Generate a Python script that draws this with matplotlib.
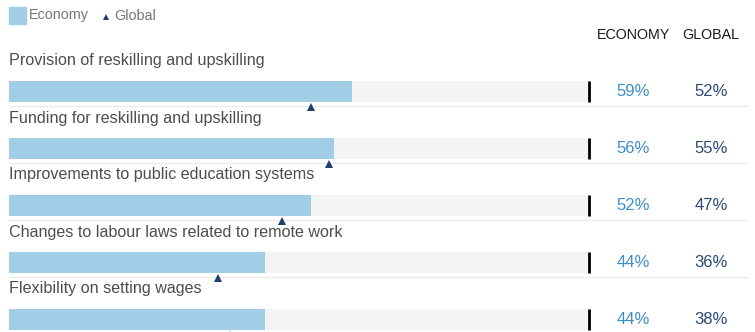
import matplotlib.pyplot as plt
import matplotlib.transforms as mtransforms
from matplotlib.patches import Rectangle

categories = [
    "Provision of reskilling and upskilling",
    "Funding for reskilling and upskilling",
    "Improvements to public education systems",
    "Changes to labour laws related to remote work",
    "Flexibility on setting wages",
]
economy = [59, 56, 52, 44, 44]
global_ = [52, 55, 47, 36, 38]

BAR_COLOR = "#a2cde6"
TRACK_COLOR = "#f4f4f4"
ECON_TEXT = "#3d8ec7"
GLOBAL_TEXT = "#2b4a78"
MARKER_COLOR = "#1f3e6e"
LABEL_COLOR = "#4d4d4d"

plt.rcParams["font.family"] = ["Liberation Sans", "DejaVu Sans"]

W, H = 755, 332
fig = plt.figure(figsize=(W / 100, H / 100), dpi=100)
# axes spans the bar track horizontally (0-100%), full height in pixel units
ax = fig.add_axes([9 / W, 0, (590 - 9) / W, 1])
ax.set_xlim(0, 100)
ax.set_ylim(H, 0)
ax.axis("off")

px = 100 / (590 - 9)  # data units per pixel horizontally
fig_x = mtransforms.blended_transform_factory(fig.transFigure, ax.transData)

first_top = 81
pitch = 57
bar_h = 21

for i, (cat, e, g) in enumerate(zip(categories, economy, global_)):
    top = first_top + i * pitch
    center = top + bar_h / 2
    ax.barh(center, 100, height=bar_h, color=TRACK_COLOR, clip_on=False)
    ax.barh(center, e, height=bar_h, color=BAR_COLOR, clip_on=False)
    ax.plot([100 - px, 100 - px], [top, top + bar_h], color="black", lw=2,
            solid_capstyle="butt", clip_on=False)
    ax.plot([0, 127], [top + bar_h + 3.5] * 2, color="#ebebeb", lw=1, clip_on=False)
    ax.plot(g, top + bar_h + 5, marker="^", color=MARKER_COLOR, ms=6,
            markeredgewidth=0, clip_on=False)
    ax.text(0, top - 20, cat, fontsize=11.6, color=LABEL_COLOR, va="center",
            ha="left", clip_on=False)
    ax.text(633 / W, center, f"{e}%", transform=fig_x, fontsize=12,
            color=ECON_TEXT, ha="center", va="center")
    ax.text(711 / W, center, f"{g}%", transform=fig_x, fontsize=12,
            color=GLOBAL_TEXT, ha="center", va="center")

# column headers
fig.text(633 / W, 1 - 35 / H, "ECONOMY", fontsize=10.3, color="#1a1a1a",
         ha="center", va="center")
fig.text(711 / W, 1 - 35 / H, "GLOBAL", fontsize=10.3, color="#1a1a1a",
         ha="center", va="center")

# legend
fig.patches.append(Rectangle((9 / W, 1 - 24 / H), 17 / W, 17 / H,
                             transform=fig.transFigure, color=BAR_COLOR))
fig.text(29 / W, 1 - 15.5 / H, "Economy", fontsize=10.4, color="#777777",
         ha="left", va="center")
fig.lines.append(plt.Line2D([106 / W], [1 - 16.5 / H], marker="^", ms=5,
                            color=MARKER_COLOR, markeredgewidth=0,
                            transform=fig.transFigure))
fig.text(114 / W, 1 - 15.5 / H, "Global", fontsize=10.4, color="#777777",
         ha="left", va="center")

fig.savefig("out.png", dpi=100)
